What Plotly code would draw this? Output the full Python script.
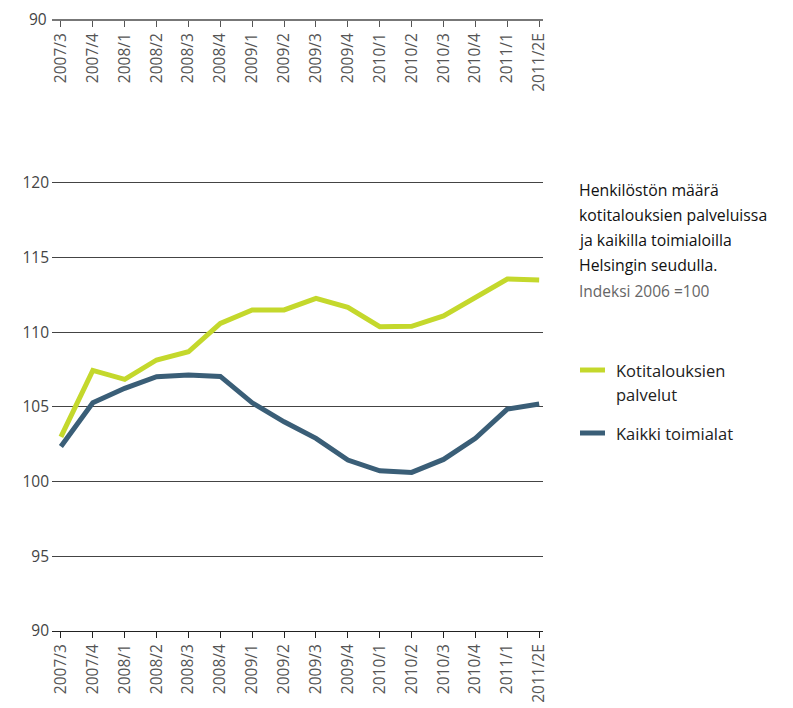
import plotly.graph_objects as go

W, H = 793, 708
OFF = 8  # default page body margin

categories = ["2007/3", "2007/4", "2008/1", "2008/2", "2008/3", "2008/4",
              "2009/1", "2009/2", "2009/3", "2009/4", "2010/1", "2010/2",
              "2010/3", "2010/4", "2011/1", "2011/2E"]
kotitaloudet = [103.0, 107.45, 106.85, 108.15, 108.7, 110.6, 111.5, 111.5,
                112.28, 111.67, 110.38, 110.4, 111.1, 112.3, 113.57, 113.5]
kaikki = [102.35, 105.28, 106.25, 107.03, 107.14, 107.05, 105.28, 104.01,
          102.9, 101.45, 100.73, 100.62, 101.49, 102.9, 104.86, 105.2]
y_ticks = [90, 95, 100, 105, 110, 115, 120]
top_y_label = "90"

GREEN = "#c4d82c"
BLUE = "#3a5e77"
FONT = "Open Sans"


def px_x(x):
    return (x - OFF) / W


def px_y(y):
    return min(1.0, max(0.0, (H - (y - OFF)) / H))


fig = go.Figure()
fig.add_trace(go.Scatter(x=categories, y=kotitaloudet, mode="lines",
                         line=dict(color=GREEN, width=5), name="Kotitalouksien palvelut",
                         xaxis="x", yaxis="y"))
fig.add_trace(go.Scatter(x=categories, y=kaikki, mode="lines",
                         line=dict(color=BLUE, width=5), name="Kaikki toimialat",
                         xaxis="x", yaxis="y"))
# invisible trace for the duplicated top axis
fig.add_trace(go.Scatter(x=categories, y=[None] * len(categories), mode="lines",
                         xaxis="x2", yaxis="y2", showlegend=False, hoverinfo="skip"))

xr = [-0.28, 15.12]
x_dom = [px_x(52), px_x(543)]
tickfont = dict(family=FONT, size=15.5, color="#555")

# main plot: 90 at y=631, 120 at y=183
ppu = (631 - 183) / 30
top_val = 121
top_px = 631 - (top_val - 90) * ppu

fig.update_layout(
    width=W, height=H,
    margin=dict(l=0, r=0, t=0, b=0, autoexpand=False),
    paper_bgcolor="white", plot_bgcolor="rgba(0,0,0,0)",
    showlegend=False,
    font=dict(family=FONT),
    xaxis=dict(domain=x_dom, type="category", range=xr, anchor="y", automargin=False,
               tickmode="array", tickvals=categories, ticktext=categories,
               tickangle=-90, ticks="outside", ticklen=6, tickcolor="#222",
               tickwidth=1, showline=True, linecolor="#222", linewidth=1,
               showgrid=False, tickfont=tickfont, zeroline=False),
    yaxis=dict(domain=[px_y(631), px_y(top_px)], range=[90, top_val], anchor="x",
               automargin=False,
               tickmode="array", tickvals=y_ticks, ticks="", showline=False,
               showgrid=True, gridcolor="#444", gridwidth=1, zeroline=False,
               tickfont=dict(family=FONT, size=15.5, color="#444"), ticklabelstandoff=2),
    xaxis2=dict(domain=x_dom, type="category", range=xr, anchor="y2",
                automargin=False,
                tickmode="array", tickvals=categories, ticktext=categories,
                tickangle=-90, ticks="outside", ticklen=6, tickcolor="#555",
                tickwidth=1, showline=True, linecolor="#777", linewidth=2,
                showgrid=False, tickfont=tickfont, zeroline=False),
    yaxis2=dict(domain=[px_y(19), px_y(9)], range=[0, 1], anchor="x2",
                automargin=False, showticklabels=False, ticks="", showline=False,
                showgrid=False, zeroline=False),
)

ann = [dict(text=top_y_label, x=px_x(49), y=px_y(19), xref="paper", yref="paper",
            xanchor="right", yanchor="middle", showarrow=False,
            font=dict(family=FONT, size=15.5, color="#444"))]
title_lines = ["Henkilöstön määrä", "kotitalouksien palveluissa",
               "ja kaikilla toimialoilla", "Helsingin seudulla."]
for i, t in enumerate(title_lines):
    ann.append(dict(text=t, x=px_x(577), y=px_y(190 + i * 25), xref="paper", yref="paper",
                    xanchor="left", yanchor="middle", showarrow=False,
                    font=dict(family=FONT, size=15.8, color="#111")))
ann.append(dict(text="Indeksi 2006 =100", x=px_x(577), y=px_y(291), xref="paper", yref="paper",
                xanchor="left", yanchor="middle", showarrow=False,
                font=dict(family=FONT, size=15.5, color="#666")))
legend_items = [(["Kotitalouksien", "palvelut"], GREEN, 370),
                (["Kaikki toimialat"], BLUE, 433)]
shapes = []
for lines, col, y in legend_items:
    shapes.append(dict(type="line", xref="paper", yref="paper",
                       x0=px_x(580), x1=px_x(605), y0=px_y(y), y1=px_y(y),
                       line=dict(color=col, width=5)))
    for j, t in enumerate(lines):
        ann.append(dict(text=t, x=px_x(614), y=px_y(y + j * 24), xref="paper", yref="paper",
                        xanchor="left", yanchor="middle", showarrow=False,
                        font=dict(family=FONT, size=16.5, color="#222")))
fig.update_layout(annotations=ann, shapes=shapes)

fig.write_html("out.html")
